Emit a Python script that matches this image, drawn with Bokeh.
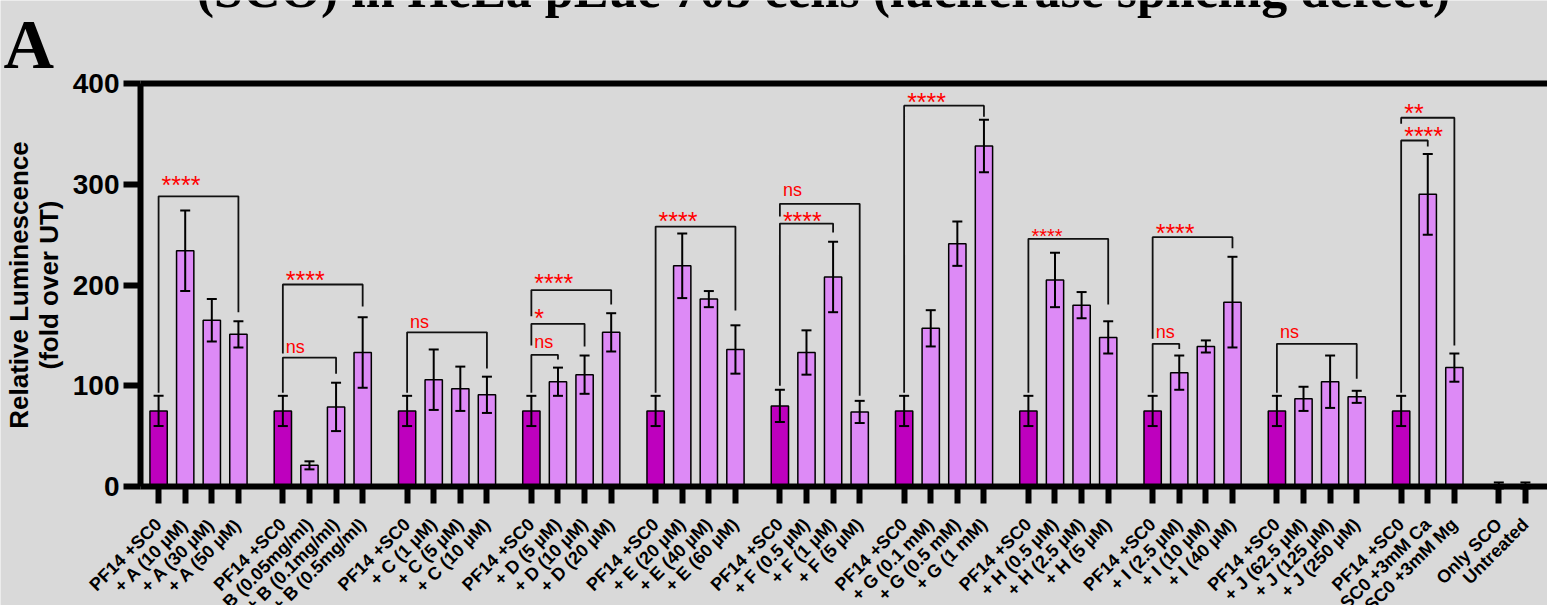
import math

from bokeh.core.properties import value
from bokeh.embed import file_html
from bokeh.models import (ColumnDataSource, FixedTicker, LinearAxis, Range1d,
                          TeeHead, Whisker)
from bokeh.plotting import figure
from bokeh.resources import INLINE

# ---------------------------------------------------------------- data
group_sizes = [4, 4, 4, 4, 4, 4, 4, 4, 4, 4, 3, 2]

labels = [
    "PF14 +SC0", "+ A (10 µM)", "+ A (30 µM)", "+ A (50 µM)",
    "PF14 +SC0", "+ B (0.05mg/ml)", "+ B (0.1mg/ml)", "+ B (0.5mg/ml)",
    "PF14 +SC0", "+ C (1 µM)", "+ C (5 µM)", "+ C (10 µM)",
    "PF14 +SC0", "+ D (5 µM)", "+ D (10 µM)", "+ D (20 µM)",
    "PF14 +SC0", "+ E (20 µM)", "+ E (40 µM)", "+ E (60 µM)",
    "PF14 +SC0", "+ F (0.5 µM)", "+ F (1 µM)", "+ F (5 µM)",
    "PF14 +SC0", "+ G (0.1 mM)", "+ G (0.5 mM)", "+ G (1 mM)",
    "PF14 +SC0", "+ H (0.5 µM)", "+ H (2.5 µM)", "+ H (5 µM)",
    "PF14 +SC0", "+ I (2.5 µM)", "+ I (10 µM)", "+ I (40 µM)",
    "PF14 +SC0", "+ J (62.5 µM)", "+ J (125 µM)", "+ J (250 µM)",
    "PF14 +SC0", "PF14 +SC0 +3mM Ca", "PF14 +SC0 +3mM Mg",
    "Only SCO", "Untreated",
]

means = [
    75, 234, 165, 151,
    75, 21, 79, 133,
    75, 106, 97, 91,
    75, 104, 111, 153,
    75, 219, 186, 136,
    80, 133, 208, 74,
    75, 157, 241, 338,
    75, 205, 180, 148,
    75, 113, 139, 183,
    75, 87, 104, 89,
    75, 290, 118,
    1, 1,
]

errors = [
    15, 40, 21, 13,
    15, 4, 24, 35,
    15, 30, 22, 18,
    15, 14, 19, 19,
    15, 32, 8, 24,
    16, 22, 35, 11,
    15, 18, 22, 26,
    15, 27, 13, 16,
    15, 17, 6, 45,
    15, 12, 26, 6,
    15, 40, 14,
    3, 3,
]

# significance brackets:
# (left bar, right bar, bracket height, left leg end, right leg end, mark, mark centre)
comparisons = [
    (0, 3, 288, 93, 173, "****", 304),
    (4, 7, 200.5, 132, 178.6, "****", 210),
    (4, 6, 128, 93, 112, "ns", 137),
    (8, 11, 153, 93, 117, "ns", 162),
    (12, 15, 195, 169, 180.6, "****", 207),
    (12, 14, 161.5, 140, 139, "*", 172),
    (12, 13, 130.7, 93, 126, "ns", 142),
    (16, 19, 258, 93, 174.7, "****", 268.7),
    (20, 23, 280.6, 268, 90, "ns", 293),
    (20, 22, 261, 100, 252, "****", 269),
    (24, 27, 378, 93, 367, "****", 386.4),
    (28, 31, 245.8, 93, 180.6, "****", 253.7),
    (32, 35, 247.5, 146.6, 236.5, "****", 256.6),
    (32, 33, 141.6, 93, 136.6, "ns", 151.9),
    (36, 39, 141.6, 93, 107, "ns", 151.9),
    (40, 42, 366, 360, 140, "**", 375.7),
    (40, 41, 343.4, 93, 337.5, "****", 352.5),
]

title_text = "(SCO) in HeLa pLuc 705 cells (luciferase splicing defect)"
panel_letter = "A"
y_title = "Relative Luminescence\n(fold over UT)"
y_ticks = [0, 100, 200, 300, 400]

# ---------------------------------------------------------------- geometry
W, H = 1547, 605
FRAME_L, FRAME_T, FRAME_B = 140, 83, 486     # pixel box of the value axes
Y_MAX = 400

GROUP_GAP = 0.67
xpos = []
start = 0.0
for n in group_sizes:
    xpos.extend(round(start + k, 3) for k in range(n))
    start += n + GROUP_GAP

X0, X1 = -0.68, 52.2
ux = (W - FRAME_L) / (X1 - X0)            # px per x unit
uy = (FRAME_B - FRAME_T) / Y_MAX          # px per y unit
# the plotting area covers the whole canvas; axes sit at fixed locations
x_full = (X0 - FRAME_L / ux, X1)
y_full = (-(H - FRAME_B) / uy, Y_MAX + FRAME_T / uy)


def px_x(px):
    return x_full[0] + px / ux


def px_y(py):
    return Y_MAX + (FRAME_T - py) / uy


DARK = "#BE00BE"
LIGHT = "#DD8AF6"
BG = "#D9D9D9"
colors = [DARK if lab == "PF14 +SC0" else LIGHT for lab in labels]

p = figure(
    width=W, height=H,
    x_range=Range1d(*x_full), y_range=Range1d(*y_full),
    x_axis_type=None, y_axis_type=None,
    output_backend="svg", toolbar_location=None,
    min_border=0, background_fill_color=BG, border_fill_color=BG,
    outline_line_color=None,
)
p.xgrid.visible = False
p.ygrid.visible = False

# ---- axes
yaxis = LinearAxis(
    fixed_location=X0, bounds=(0, Y_MAX), ticker=FixedTicker(ticks=y_ticks),
    axis_line_width=6, major_tick_line_width=6, major_tick_out=17, major_tick_in=0,
    minor_tick_line_color=None,
    major_label_text_font="Liberation Sans", major_label_text_font_style="bold",
    major_label_text_font_size="28px", major_label_text_color="black",
    major_label_standoff=4,
    axis_label=y_title, axis_label_text_font="Liberation Sans",
    axis_label_text_font_style="bold", axis_label_text_font_size="26px",
    axis_label_text_line_height=1.0, axis_label_text_color="black",
    axis_label_standoff=6,
)
p.add_layout(yaxis, "left")

xaxis = LinearAxis(
    fixed_location=0, bounds=(X0, X1), ticker=FixedTicker(ticks=xpos),
    major_label_overrides={x: lab for x, lab in zip(xpos, labels)},
    major_label_orientation=math.pi / 4,
    axis_line_width=6, major_tick_line_width=6, major_tick_out=17, major_tick_in=0,
    minor_tick_line_color=None,
    major_label_text_font="Liberation Sans", major_label_text_font_style="bold",
    major_label_text_font_size="18px", major_label_text_color="black",
    major_label_standoff=18,
)
p.add_layout(xaxis, "below")

# upper boundary line of the value area
top_axis = LinearAxis(
    fixed_location=Y_MAX, bounds=(X0, X1), ticker=FixedTicker(ticks=[]),
    axis_line_width=6, major_tick_line_color=None, minor_tick_line_color=None,
    major_label_text_font_size="0px",
)
p.add_layout(top_axis, "above")

# ---- bars with SD whiskers
bars = ColumnDataSource(dict(
    x=xpos,
    top=means,
    upper=[m + e for m, e in zip(means, errors)],
    lower=[m - e for m, e in zip(means, errors)],
    color=colors,
))
p.vbar(x="x", top="top", bottom=0, width=0.65, source=bars,
       fill_color="color", line_color="black", line_width=1.5)
p.add_layout(Whisker(
    source=bars, base="x", upper="upper", lower="lower", level="overlay",
    line_color="black", line_width=2,
    upper_head=TeeHead(size=10, line_color="black", line_width=2),
    lower_head=TeeHead(size=10, line_color="black", line_width=2),
))

# ---- significance brackets
xs, ys = [], []
mx, my, mtext, msize = [], [], [], []
for left, right, height, lend, rend, mark, centre in comparisons:
    xl, xr = xpos[left], xpos[right]
    xs.append([xl, xl, xr, xr])
    ys.append([lend, height, height, rend])
    mx.append(xl)
    mtext.append(mark)
    if mark == "ns":
        my.append(centre + 1.5)
        msize.append("18px")
    else:
        my.append(centre - 5)
        msize.append("20px" if left == 28 else "25px")

p.multi_line(xs=xs, ys=ys, line_color="#111111", line_width=1.8)
marks = ColumnDataSource(dict(x=mx, y=my, text=mtext, size=msize))
p.text(x="x", y="y", text="text", source=marks, x_offset=3,
       text_color="#FF0000", text_font=value("Liberation Sans"),
       text_font_size="size", text_baseline="middle", text_align="left")

# ---- heading and panel letter (text box anchored at its top edge)
p.text(x=[px_x(823)], y=[px_y(-11)], text=[title_text],
       text_align="center", text_baseline="alphabetic",
       text_font=value("Liberation Serif"), text_font_style="bold",
       text_font_size="52px", text_color="black")
p.text(x=[px_x(3)], y=[px_y(44)], text=[panel_letter],
       text_align="left", text_baseline="alphabetic",
       text_font=value("Liberation Serif"), text_font_style="bold",
       text_font_size="70px", text_color="black")

open("out.html", "w").write(file_html(p, INLINE))
